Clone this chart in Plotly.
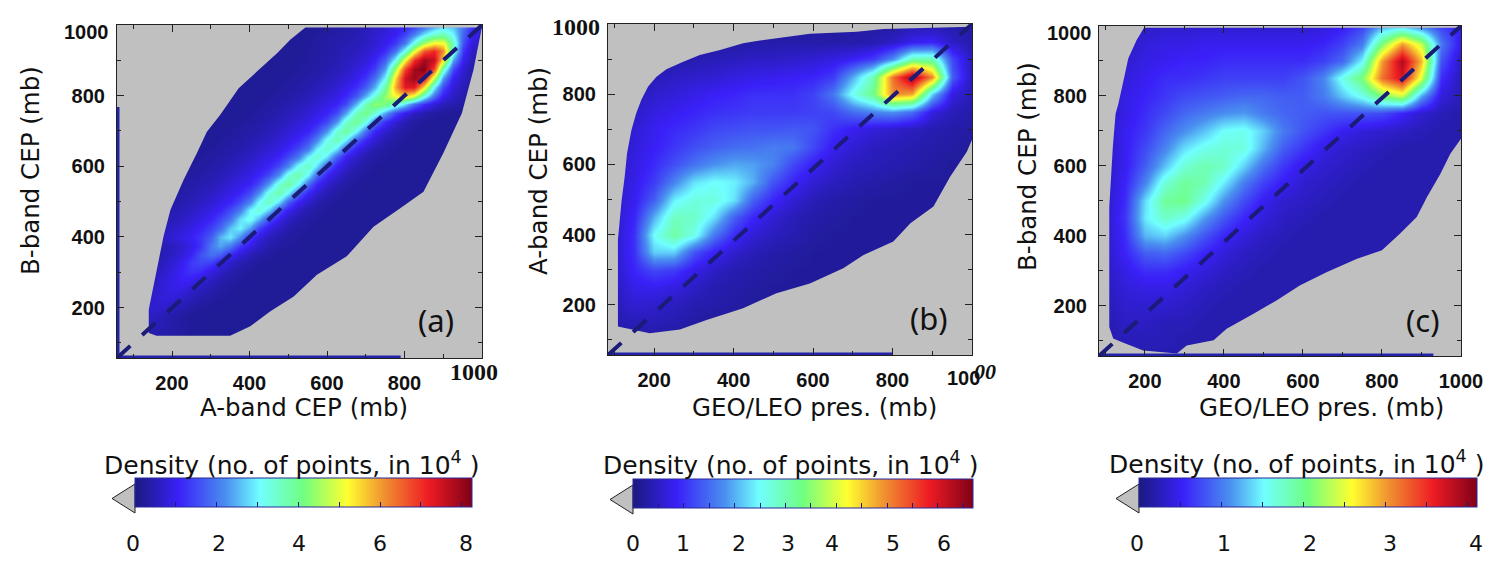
import plotly.graph_objects as go

W, H = 1505, 571

# pressure levels of the density grids (mb)
x_levels = [50, 100, 150, 200, 250, 300, 350, 400, 450, 500, 550, 600, 650, 700, 750, 800, 850, 900, 950, 1000]
y_levels = [1000, 950, 900, 850, 800, 750, 700, 650, 600, 550, 500, 450, 400, 350, 300, 250, 200, 150, 100, 50]
x_levels_a = list(range(50, 1001, 25))
y_levels_a = list(range(1000, 49, -25))

# panel (a): finer grid, the ridge is narrow; 0.2 is the empty-bin level
z_a = [
 [.2]*22 + [.25,.3,.35,.4, .5,.6,.7,.85,1.0,1.3,1.7,2.2,2.6,2.5,2.0,1.3,.8],
 [.2]*21 + [.25,.3,.35,.4,.45, .55,.7,.85,1.0,1.4,2.0,2.8,3.4,3.6,3.0,1.8,1.0,.7],
 [.2]*20 + [.25,.3,.35,.4,.45,.5, .6,.75,.95,1.3,2.0,3.2,4.5,5.2,5.2,3.6,1.6,.8,.6],
 [.2]*20 + [.25,.3,.35,.42,.5,.55, .7,.85,1.2,1.9,3.2,5.0,6.6,7.1,6.2,3.4,1.3,.6,.5],
 [.2]*19 + [.22,.27,.32,.38,.45,.55,.65, .8,1.1,1.7,3.0,5.2,7.0,7.9,7.6,5.4,2.4,1.0,.5,.4],
 [.2]*19 + [.25,.3,.35,.42,.5,.6,.8, 1.0,1.4,2.3,4.4,6.8,7.9,8.2,6.8,3.6,1.5,.7,.4,.3],
 [.2]*18 + [.25,.3,.35,.42,.5,.6,.75,.95, 1.3,1.9,3.0,5.4,7.5,8.0,7.4,4.8,2.3,1.0,.6,.35,.3],
 [.2]*17 + [.25,.3,.35,.42,.5,.6,.75,.95,1.2, 1.7,2.5,3.8,5.8,7.3,7.3,5.4,3.0,1.5,.8,.5,.3,.25],
 [.2]*16 + [.25,.3,.35,.42,.5,.6,.75,.9,1.15,1.6, 2.5,3.4,4.4,5.2,5.6,5.0,3.3,1.9,1.0,.6,.4,.3,.25],
 [.2]*15 + [.25,.3,.35,.42,.5,.6,.75,.9,1.1,1.5,2.5,3.7,4.4,4.2,3.6,2.8,1.9,1.2,.8,.55,.4,.3,.25,.2],
 [.2]*14 + [.25,.3,.35,.42,.5,.6,.75,.9,1.1,1.5,2.4,3.6,4.1,3.4,2.4,1.5,.95,.6,.4,.3,.25,.22] + [.2]*3,
 [.2]*13 + [.25,.3,.35,.42,.5,.6,.75,.9,1.1,1.5,2.3,3.5,4.0,3.2,1.9,1.2,.75,.45,.3,.25,.22] + [.2]*5,
 [.2]*12 + [.25,.3,.35,.42,.5,.6,.75,.9,1.1,1.5,2.25,3.4,3.9,3.1,1.85,1.1,.7,.45,.3,.25,.22] + [.2]*6,
 [.2]*11 + [.25,.3,.35,.42,.5,.6,.75,.9,1.1,1.5,2.15,3.2,3.7,2.9,1.75,1.1,.7,.45,.3,.25,.22] + [.2]*7,
 [.2]*10 + [.25,.3,.35,.42,.5,.6,.75,.9,1.1,1.5,2.0,3.0,3.5,2.8,1.65,1.0,.65,.42,.3,.25,.22] + [.2]*8,
 [.2]*9 + [.25,.3,.35,.42,.5,.6,.75,.9,1.1,1.5,2.0,3.0,3.5,2.8,1.65,1.0,.65,.42,.3,.25,.22] + [.2]*9,
 [.2]*8 + [.25,.3,.35,.42,.5,.6,.75,.9,1.1,1.5,2.1,3.1,3.6,2.8,1.7,1.05,.7,.45,.3,.25,.22] + [.2]*10,
 [.2]*7 + [.25,.3,.35,.42,.5,.6,.75,.9,1.1,1.5,2.2,3.3,3.8,3.0,1.8,1.1,.7,.45,.3,.25,.22] + [.2]*11,
 [.2]*6 + [.25,.3,.35,.42,.5,.6,.75,.9,1.1,1.5,2.3,3.4,3.9,3.1,1.85,1.1,.7,.45,.3,.25,.22] + [.2]*12,
 [.2]*5 + [.25,.3,.35,.42,.5,.6,.75,.9,1.1,1.5,2.2,3.3,3.8,3.0,1.8,1.1,.7,.45,.3,.25,.22] + [.2]*13,
 [.2]*4 + [.25,.3,.35,.42,.5,.6,.75,.9,1.1,1.5,2.1,3.1,3.6,2.8,1.7,1.05,.65,.42,.3,.25,.22] + [.2]*14,
 [.2]*3 + [.25,.3,.35,.42,.5,.6,.75,.9,1.1,1.5,2.0,3.0,3.4,2.7,1.6,1.0,.65,.42,.3,.25,.22] + [.2]*15,
 [.2]*2 + [.25,.3,.35,.42,.5,.6,.75,.9,1.1,1.45,1.9,2.8,3.2,2.5,1.5,.95,.6,.4,.3,.25,.22] + [.2]*16,
 [.2]*1 + [.25,.3,.35,.42,.5,.6,.75,.9,1.1,1.4,1.8,2.6,3.0,2.35,1.4,.9,.6,.4,.3,.25,.22] + [.2]*17,
 [.25,.3,.35,.42,.5,.6,.75,.9,1.05,1.3,1.7,2.5,2.9,2.2,1.3,.85,.55,.38,.3,.25,.22] + [.2]*18,
 [.2,.2,.25,.3,.35,.45,.55,.7,.9,1.3,2.0,2.4,2.0,1.3,.9,.6,.4,.3,.25,.22] + [.2]*19,
 [.2,.2,.25,.3,.35,.45,.6,.8,1.1,1.6,1.9,1.7,1.1,.75,.5,.35,.28,.22] + [.2]*21,
 [.2,.22,.27,.33,.42,.55,.75,1.0,1.35,1.5,1.35,.95,.65,.45,.32,.25,.22] + [.2]*22,
 [.2,.25,.3,.38,.5,.65,.85,1.1,1.25,1.15,.85,.6,.42,.3,.25,.22] + [.2]*23,
 [.2,.25,.32,.42,.55,.72,.92,1.05,.98,.75,.55,.4,.3,.25,.22] + [.2]*24,
 [.2,.25,.35,.45,.6,.78,.9,.85,.68,.5,.38,.3,.25,.22] + [.2]*25,
 [.22,.28,.38,.52,.68,.8,.78,.62,.47,.35,.28,.24,.2] + [.2]*26,
 [.22,.3,.42,.58,.7,.68,.55,.42,.32,.25,.22,.2] + [.2]*27,
 [.22,.3,.45,.58,.58,.48,.36,.28,.22,.2,.2] + [.2]*28,
 [.2,.25,.35,.45,.48,.45,.38,.3,.25,.22] + [.2]*29,
 [.2,.22,.3,.38,.4,.38,.32,.27,.22] + [.2]*30,
 [.2]*39,
 [.2]*39,
 [.2]*39,
]

z_b = [
 [.2,.2,.2,.2,.2,.2,.2,.2,.2,.2,.2,.2,.2,.25,.25,.25,.3,.3,.3,.25],
 [.2,.2,.2,.2,.2,.25,.25,.25,.3,.3,.3,.3,.3,.3,.35,.5,.8,.9,.5,.3],
 [.2,.2,.25,.25,.3,.35,.4,.45,.5,.5,.55,.6,.7,.85,1.1,1.8,3.0,3.0,1.2,.4],
 [.2,.25,.3,.4,.5,.55,.6,.7,.75,.8,.85,.9,1.1,2.0,3.0,5.2,6.5,5.0,1.4,.4],
 [.2,.3,.4,.55,.65,.75,.85,.9,1.0,1.0,1.0,1.15,1.6,2.6,3.3,5.0,4.8,2.2,.7,.35],
 [.2,.35,.5,.7,.8,.9,1.0,1.05,1.1,1.1,1.1,1.15,1.2,1.5,1.7,1.8,1.5,.7,.4,.3],
 [.2,.4,.6,.8,.95,1.05,1.2,1.25,1.3,1.3,1.35,1.3,1.0,.8,.65,.55,.45,.35,.3,.25],
 [.2,.4,.65,.85,1.05,1.25,1.4,1.5,1.55,1.65,1.6,1.2,.8,.6,.45,.4,.35,.3,.25,.2],
 [.2,.45,.7,.95,1.25,1.55,1.8,1.95,1.9,1.7,1.2,.85,.6,.45,.4,.35,.3,.25,.2,.2],
 [.2,.5,.75,1.1,1.7,2.3,2.5,2.4,2.0,1.3,.9,.6,.45,.35,.3,.25,.2,.2,.2,.2],
 [.2,.5,.8,1.4,2.4,2.7,2.7,2.3,1.4,.9,.6,.4,.3,.25,.2,.2,.2,.2,.2,.2],
 [.2,.5,.9,2.0,2.9,2.85,2.3,1.4,.9,.6,.4,.3,.25,.2,.2,.2,.2,.2,.2,.2],
 [.2,.5,1.0,2.5,3.1,2.6,1.6,.95,.6,.45,.35,.25,.2,.2,.2,.2,.2,.2,.2,.2],
 [.2,.5,1.0,2.2,2.2,1.3,.85,.55,.4,.3,.25,.2,.2,.2,.2,.2,.2,.2,.2,.2],
 [.2,.5,.9,1.2,1.1,.75,.5,.35,.3,.25,.2,.2,.2,.2,.2,.2,.2,.2,.2,.2],
 [.2,.45,.75,.8,.7,.5,.35,.3,.25,.2,.2,.2,.2,.2,.2,.2,.2,.2,.2,.2],
 [.2,.4,.6,.55,.45,.35,.3,.25,.2,.2,.2,.2,.2,.2,.2,.2,.2,.2,.2,.2],
 [.2,.35,.4,.4,.35,.25,.2,.2,.2,.2,.2,.2,.2,.2,.2,.2,.2,.2,.2,.2],
 [.2,.25,.25,.25,.2,.2,.2,.2,.2,.2,.2,.2,.2,.2,.2,.2,.2,.2,.2,.2],
 [.2,.2,.2,.2,.2,.2,.2,.2,.2,.2,.2,.2,.2,.2,.2,.2,.2,.2,.2,.2],
]

z_c = [
 [.2,.2,.25,.3,.35,.35,.35,.35,.35,.35,.35,.35,.4,.5,.7,1.2,1.3,1.0,.7,.5],
 [.2,.25,.3,.4,.45,.45,.5,.5,.5,.5,.5,.5,.55,.7,1.0,2.1,3.0,2.4,1.0,.45],
 [.2,.3,.35,.45,.5,.55,.55,.6,.6,.6,.6,.6,.7,.9,1.5,3.0,3.9,2.9,.8,.3],
 [.2,.3,.4,.5,.6,.6,.65,.7,.7,.7,.7,.8,1.05,1.6,2.1,3.2,3.7,2.5,.6,.25],
 [.2,.3,.45,.55,.65,.75,.8,.85,.9,.9,.85,.85,1.0,1.3,1.6,2.1,2.4,1.2,.4,.25],
 [.2,.3,.45,.6,.75,.9,1.0,1.1,1.15,1.0,.9,.85,.8,.8,.8,.75,.55,.35,.25,.2],
 [.2,.3,.5,.65,.9,1.1,1.3,1.55,1.6,1.35,1.0,.8,.65,.5,.4,.35,.3,.25,.2,.2],
 [.2,.3,.5,.75,1.05,1.4,1.6,1.7,1.65,1.25,.85,.65,.45,.35,.3,.25,.2,.2,.2,.2],
 [.2,.3,.5,.85,1.3,1.7,1.85,1.75,1.35,.95,.65,.45,.35,.3,.25,.2,.2,.2,.2,.2],
 [.2,.3,.55,1.05,1.7,1.95,1.85,1.45,1.0,.7,.5,.35,.3,.25,.2,.2,.2,.2,.2,.2],
 [.2,.3,.6,1.4,1.95,2.0,1.6,1.1,.75,.5,.35,.3,.25,.2,.2,.2,.2,.2,.2,.2],
 [.2,.3,.65,1.45,1.75,1.6,1.15,.8,.55,.4,.3,.25,.2,.2,.2,.2,.2,.2,.2,.2],
 [.2,.3,.6,1.25,1.35,1.1,.8,.55,.4,.3,.25,.2,.2,.2,.2,.2,.2,.2,.2,.2],
 [.2,.3,.55,.85,.9,.75,.55,.4,.3,.25,.2,.2,.2,.2,.2,.2,.2,.2,.2,.2],
 [.2,.3,.45,.6,.6,.5,.4,.3,.25,.2,.2,.2,.2,.2,.2,.2,.2,.2,.2,.2],
 [.2,.25,.4,.45,.45,.38,.3,.25,.2,.2,.2,.2,.2,.2,.2,.2,.2,.2,.2,.2],
 [.2,.25,.35,.35,.35,.3,.25,.2,.2,.2,.2,.2,.2,.2,.2,.2,.2,.2,.2,.2],
 [.2,.2,.3,.3,.25,.25,.2,.2,.2,.2,.2,.2,.2,.2,.2,.2,.2,.2,.2,.2],
 [.2,.2,.25,.25,.25,.2,.2,.2,.2,.2,.2,.2,.2,.2,.2,.2,.2,.2,.2,.2],
 [.2,.2,.2,.2,.2,.2,.2,.2,.2,.2,.2,.2,.2,.2,.2,.2,.2,.2,.2,.2],
]

# edges of the populated region (mb)
upper_a_x = [140, 140, 161, 178, 196, 230, 264, 290, 324, 354, 372, 419, 471, 505, 544, 1000]
upper_a_y = [128, 194, 307, 401, 477, 562, 637, 698, 745, 793, 821, 868, 920, 958, 993, 993]
lower_a_x = [140, 160, 264, 350, 402, 453, 514, 574, 651, 720, 789, 849, 900, 948, 978, 1000]
lower_a_y = [128, 120, 120, 120, 147, 189, 231, 293, 345, 429, 481, 528, 637, 750, 873, 995]

upper_b_x = [109, 109, 118, 126, 132, 143, 155, 168, 185, 206, 231, 269, 315, 366, 424, 466, 592, 710, 777, 1000]
upper_b_y = [138, 385, 494, 565, 632, 698, 746, 784, 822, 850, 871, 890, 912, 926, 945, 953, 972, 978, 986, 992]
lower_b_x = [109, 189, 265, 332, 424, 508, 592, 676, 727, 802, 845, 903, 945, 987, 1000]
lower_b_y = [138, 119, 130, 157, 190, 233, 261, 304, 342, 380, 432, 480, 565, 636, 670]

upper_c_x = [110, 110, 119, 126, 133, 148, 158, 179, 198, 1000]
upper_c_y = [140, 483, 654, 749, 778, 854, 907, 959, 995, 995]
lower_c_x = [110, 120, 141, 196, 281, 306, 374, 407, 475, 534, 593, 661, 737, 800, 846, 888, 914, 948, 973, 1000]
lower_c_y = [140, 107, 97, 73, 64, 87, 102, 135, 178, 216, 259, 297, 335, 359, 407, 454, 511, 578, 635, 678]

# extents of the blue bins along the plot edges (mb)
left_edge_top = [768, 57, 57]
bottom_edge_end = [790, 800, 930]

titles_x = ["A-band CEP (mb)", "GEO/LEO pres. (mb)", "GEO/LEO pres. (mb)"]
titles_y = ["B-band CEP (mb)", "A-band CEP (mb)", "B-band CEP (mb)"]
panel_tags = ["(a)", "(b)", "(c)"]
bar_title = "Density (no. of points, in 10<sup>4</sup> )"
bar_max = [8.25, 6.69, 4.12]
bar_ticks = [[1, 2, 3, 4, 5, 6, 7, 8], [.5, 1, 1.5, 2, 2.5, 3, 3.5, 4, 4.5, 5, 5.5, 6, 6.5], [.5, 1, 1.5, 2, 2.5, 3, 3.5, 4]]
bar_labels = [["0", "2", "4", "6", "8"], ["0", "1", "2", "3", "4", "5", "6"], ["0", "1", "2", "3", "4"]]

major = [200, 400, 600, 800]
major_c = [200, 400, 600, 800, 1000]
minor = [100, 300, 500, 700, 900]

jet = [[0, "#1a1a80"], [.13, "#3a20f8"], [.27, "#4a90f0"], [.37, "#70ffff"], [.5, "#70ff80"],
       [.63, "#ffff30"], [.74, "#f09030"], [.87, "#ee1c24"], [1, "#800018"]]
GRAY = "#c0c0c0"
NAVY = "#1b1b78"
SANS = "DejaVu Sans"
TAGF = "Noto Sans"
TICK = "Liberation Sans"
SERIF = "Liberation Serif"

# pixel layout: plot box left/right/top/bottom, x-axis start, colour bar box, label centres
boxes = [(117, 482, 25, 358, 58), (608, 972, 24, 355, 84), (1099, 1461, 26, 356, 84)]
bars = [(135, 472, 484, 513, 112), (633, 973, 485, 514, 610), (1139, 1477, 484, 513, 1116)]
xt_pos = [(304, 408), (814, 408), (1321, 407)]
yt_pos = [(30, 171), (538, 171), (1028, 167)]
tag_pos = [(436, 320), (929, 318), (1422, 320)]
bt_pos = [(291, 463), (790, 463), (1296, 462)]
bl_pos = [[133, 219, 299, 380, 466], [633, 683, 739, 788, 832, 893, 944], [1137, 1224, 1310, 1390, 1476]]

fig = go.Figure()
anns = []
shapes = []


def px(x, y):
    return x / W, 1 - y / H


def note(text, x, y, size, family=SANS, angle=0, color="#111111"):
    a, b = px(x, y)
    anns.append(dict(text=text, x=a, y=b, xref="paper", yref="paper", showarrow=False, textangle=angle,
                     xanchor="center", yanchor="middle", font=dict(family=family, size=size, color=color)))


zs = [z_a, z_b, z_c]
xs = [x_levels_a, x_levels, x_levels]
ys = [y_levels_a, y_levels, y_levels]
uppers = [(upper_a_x, upper_a_y), (upper_b_x, upper_b_y), (upper_c_x, upper_c_y)]
lowers = [(lower_a_x, lower_a_y), (lower_b_x, lower_b_y), (lower_c_x, lower_c_y)]

for i in range(3):
    l, r, t, b, x0 = boxes[i]
    bl, br, bt, bb, tip = bars[i]
    n = "" if i == 0 else str(i + 1)
    xa, ya = "x" + n, "y" + n
    fig.add_trace(go.Heatmap(
        x=xs[i], y=ys[i][::-1], z=zs[i][::-1], xaxis=xa, yaxis=ya, colorscale=jet, zmin=0, zmax=bar_max[i],
        zsmooth="best", hoverinfo="skip",
        colorbar=dict(orientation="h", x=bl / W, xanchor="left", y=1 - bb / H, yanchor="bottom",
                      len=br - bl, lenmode="pixels", thickness=bb - bt, thicknessmode="pixels", xpad=0, ypad=0,
                      outlinecolor="#2a2a9a", outlinewidth=1, borderwidth=0,
                      tickmode="array", tickvals=bar_ticks[i], ticks="inside", ticklen=5, tickwidth=1,
                      tickcolor=NAVY, showticklabels=False)))
    # grey mask: plot box with the populated region cut out of it
    ux, uy = uppers[i]
    lx, ly = lowers[i]
    mask_x = [x0, 1000, 1000, x0, x0] + ux + lx[::-1] + [x0]
    mask_y = [57, 57, 1000, 1000, 57] + uy + ly[::-1] + [57]
    fig.add_trace(go.Scatter(x=mask_x, y=mask_y, xaxis=xa, yaxis=ya, mode="lines", fill="toself", fillcolor=GRAY,
                             line=dict(width=0, color=GRAY), hoverinfo="skip", showlegend=False))
    fig.add_trace(go.Scatter(x=[x0, x0, bottom_edge_end[i]], y=[left_edge_top[i], 57, 57], xaxis=xa, yaxis=ya,
                             mode="lines", line=dict(color="#2222aa", width=5), hoverinfo="skip", showlegend=False))
    fig.add_trace(go.Scatter(x=[x0, 1000], y=[57, 1000], xaxis=xa, yaxis=ya, mode="lines",
                             line=dict(color=NAVY, width=4, dash="18px,16px"), hoverinfo="skip", showlegend=False))
    common = dict(showline=True, linecolor="#222222", linewidth=1.2, mirror="allticks", ticks="inside", ticklen=7,
                  tickwidth=1.2, tickcolor="#222222", showgrid=False, zeroline=False, tickmode="array",
                  minor=dict(tickmode="array", tickvals=minor, ticks="inside", ticklen=4, tickcolor="#222222",
                             tickwidth=1, showgrid=False),
                  tickfont=dict(family=TICK, size=20, color="#111111", weight="bold"), ticklabelstandoff=7)
    fig.update_layout({
        "xaxis" + n: dict(common, domain=[l / W, r / W], range=[x0, 1000], anchor=ya,
                          tickvals=major_c if i == 2 else major),
        "yaxis" + n: dict(common, domain=[1 - b / H, 1 - t / H], range=[57, 1000], anchor=xa, tickvals=major),
    })
    note(titles_x[i], *xt_pos[i], 24.5)
    note(titles_y[i], *yt_pos[i], 24.5, angle=-90)
    note(panel_tags[i], *tag_pos[i], 31, family=TAGF)
    note(bar_title, *bt_pos[i], 25)
    for text, pos in zip(bar_labels[i], bl_pos[i]):
        note(text, pos, 543, 22)
    a, c = px(bl, bt)
    e, d = px(bl, bb)
    g, f = px(tip, (bt + bb) / 2)
    shapes.append(dict(type="path", xref="paper", yref="paper", path=f"M {a} {c} L {g} {f} L {e} {d} Z",
                       fillcolor=GRAY, line=dict(color="#222222", width=1)))

note("<b>1000</b>", 474, 372, 24, SERIF)
note("<b>1000</b>", 86, 32, 20, TICK)
note("<b>1000</b>", 576, 27, 24, SERIF)
note("<b>100</b>", 963, 378, 20, TICK)
note("<b><i>00</i></b>", 985, 371, 22, SERIF)
note("<b>1000</b>", 1069, 33, 20, TICK)

fig.update_layout(width=W, height=H, margin=dict(l=0, r=0, t=0, b=0, autoexpand=False),
                  paper_bgcolor="white", plot_bgcolor=GRAY, showlegend=False, annotations=anns, shapes=shapes)

fig.write_html("out.html", config={"displayModeBar": False},
               post_script="document.body.style.margin='0';document.body.style.overflow='hidden';")
